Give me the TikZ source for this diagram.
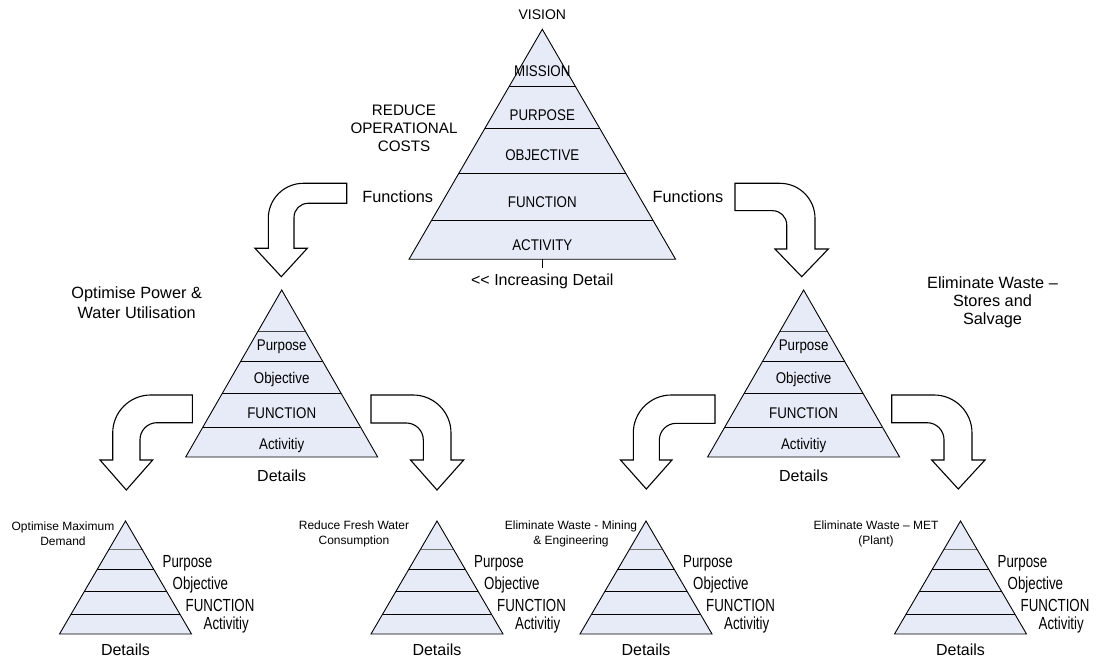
\documentclass[tikz,border=0pt]{standalone}
\usepackage{fontspec}
\setmainfont{Liberation Sans}
\newfontfamily\condf[FakeStretch=0.86]{Liberation Sans}
\newfontfamily\narf[FakeStretch=0.76]{Liberation Sans}
\definecolor{pyrblue}{RGB}{230,235,247}
\tikzset{
  pyrline/.style={line width=0.9pt, black},
  arrowshape/.style={draw=black, fill=white, line width=1.1pt, line join=miter},
  plabel/.style={font=\condf\fontsize{15.5}{18}\selectfont, inner sep=0pt},
  sidelabel/.style={font=\fontsize{16.3}{18.3}\selectfont, align=center, inner sep=0pt},
  smalllabel/.style={font=\fontsize{12}{15}\selectfont, align=center, inner sep=0pt},
  blabel/.style={font=\narf\fontsize{17.5}{20}\selectfont, anchor=west, inner sep=0pt},
  detlabel/.style={font=\fontsize{16}{18}\selectfont, inner sep=0pt}
}
% #1 apex x, #2 apex y, #3 base y, #4 half width, #5 colour of first line, #6 first line y, #7 other line ys
\newcommand\drawpyr[7]{%
  \fill[pyrblue] (#1,#2) -- (#1-#4,#3) -- (#1+#4,#3) -- cycle;
  \pgfmathsetmacro\hwA{#4/(#3-#2)*(#6-#2)}
  \draw[line width=0.9pt, #5] (#1-\hwA,#6) -- (#1+\hwA,#6);
  \foreach \yy in {#7} {
    \pgfmathsetmacro\hw{#4/(#3-#2)*(\yy-#2)}
    \draw[pyrline] (#1-\hw,\yy) -- (#1+\hw,\yy);
  }
  \draw[pyrline, line join=miter] (#1,#2) -- (#1-#4,#3) -- (#1+#4,#3) -- cycle;
}
\begin{document}
\begin{tikzpicture}[x=1pt,y=-1pt]
\useasboundingbox (0,0) rectangle (1101,660);

% ---------------- top pyramid ----------------
\drawpyr{542.3}{29.3}{259.3}{133.3}{black}{86}{128.3,173.3,220}
\node[plabel, font=\fontsize{14}{16}\selectfont] (t-vision) at (542.3,15) {VISION};
\node[plabel] (t-mission) at (542.3,71) {MISSION};
\node[plabel] (t-purpose) at (542.3,115) {PURPOSE};
\node[plabel] (t-objective) at (542.3,155) {OBJECTIVE};
\node[plabel] (t-function) at (542.3,201.7) {FUNCTION};
\node[plabel] (t-activity) at (542.3,245) {ACTIVITY};
\coordinate (t-base) at (542.3,259.3);
\node[detlabel] (t-inc) at (542.3,281) {{<}{<} Increasing Detail};
\draw[line width=0.9pt] (t-base) -- (542.3,268);

\node[sidelabel, font=\fontsize{15.2}{18.3}\selectfont] (reduce) at (404,128.3) {REDUCE\\OPERATIONAL\\COSTS};
\node[sidelabel] (fn-left) at (397.7,196.7) {Functions};
\node[sidelabel] (fn-right) at (688,196.7) {Functions};

% ---------------- arrows from top ----------------
\draw[arrowshape] (346.7,183.3) -- (303.3,183.3) .. controls (284,183.3) and (268.3,199) .. (268.3,218.3) -- (268.3,248.3) -- (255,248.3) -- (281.3,276.7) -- (307.3,248.3) -- (294,248.3) -- (294,217.3) .. controls (294,209.6) and (300.3,203.3) .. (308,203.3) -- (346.7,203.3) -- cycle;
\draw[arrowshape] (735,183.3) -- (780,183.3) .. controls (799.3,183.3) and (815,199) .. (815,218.3) -- (815,249) -- (828.3,249) -- (801.7,276.7) -- (775,249) -- (786.7,249) -- (786.7,224.7) .. controls (786.7,217) and (780.4,210.7) .. (772.7,210.7) -- (735,210.7) -- cycle;

% ---------------- mid left pyramid ----------------
\drawpyr{281.7}{290}{457}{96}{black!75}{331.5}{361.5,393.5,427}
\node[plabel] (ml-purpose) at (281.7,347) {Purpose};
\node[plabel] (ml-objective) at (281.7,379.5) {Objective};
\node[plabel] (ml-function) at (281.7,412.7) {FUNCTION};
\node[plabel] (ml-activity) at (281.7,445) {Activitiy};
\node[detlabel] (ml-details) at (281.7,476) {Details};
\node[sidelabel, font=\fontsize{16.3}{19.6}\selectfont] (power) at (136.7,302.5) {Optimise Power \&\\Water Utilisation};

% ---------------- mid right pyramid ----------------
\drawpyr{803.6}{290}{457}{96}{black!75}{331.5}{361.5,393.5,427}
\node[plabel] (mr-purpose) at (803.6,347) {Purpose};
\node[plabel] (mr-objective) at (803.6,379.5) {Objective};
\node[plabel] (mr-function) at (803.6,412.7) {FUNCTION};
\node[plabel] (mr-activity) at (803.6,445) {Activitiy};
\node[detlabel] (mr-details) at (803.6,476) {Details};
\node[sidelabel] (stores) at (992.5,302.3) {Eliminate Waste --\\Stores and\\Salvage};

% ---------------- arrows from mid ----------------
\draw[arrowshape] (192.3,395) -- (150.7,395) .. controls (129.7,395) and (112.7,412) .. (112.7,433) -- (112.7,460) -- (100,460) -- (126.3,490) -- (152.7,460) -- (140,460) -- (140,439.7) .. controls (140,430.3) and (147.6,422.7) .. (157,422.7) -- (192.3,422.7) -- cycle;
\draw[arrowshape] (371,395) -- (413,395) .. controls (434,395) and (451,412) .. (451,433) -- (451,460) -- (463.7,460) -- (437,490) -- (410.5,460) -- (423.3,460) -- (423.3,440) .. controls (423.3,430.6) and (415.7,423) .. (406.3,423) -- (371,423) -- cycle;
\draw[arrowshape] (715,395) -- (671.3,395) .. controls (650.3,395) and (633.3,412) .. (633.3,433) -- (633.3,460) -- (620.5,460) -- (646.3,489) -- (672,460) -- (659.3,460) -- (659.3,440.3) .. controls (659.3,430.9) and (666.9,423.3) .. (676.3,423.3) -- (715,423.3) -- cycle;
\draw[arrowshape] (891.7,395) -- (934,395) .. controls (955,395) and (972,412) .. (972,433) -- (972,460) -- (985,460) -- (958.3,489) -- (931.7,460) -- (944,460) -- (944,439.7) .. controls (944,430.3) and (936.4,422.7) .. (927,422.7) -- (891.7,422.7) -- cycle;

% ---------------- bottom pyramids ----------------
\foreach \ax/\nm in {125.5/b1, 437/b2, 646/b3, 960.5/b4} {
  \drawpyr{\ax}{521}{634}{66}{black!55}{549}{569.3,591.7,614.3}
  \node[blabel] (\nm-purpose) at (\ax+37,563) {Purpose};
  \node[blabel] (\nm-objective) at (\ax+47,585) {Objective};
  \node[blabel] (\nm-function) at (\ax+60,605) {FUNCTION};
  \node[blabel] (\nm-activity) at (\ax+78,625) {Activitiy};
  \node[detlabel] (\nm-details) at (\ax,650) {Details};
}
\node[smalllabel] (b1-title) at (63,534.2) {Optimise Maximum\\Demand};
\node[smalllabel] (b2-title) at (354,534.2) {Reduce Fresh Water\\Consumption};
\node[smalllabel] (b3-title) at (571,534.2) {Eliminate Waste - Mining\\\& Engineering};
\node[smalllabel] (b4-title) at (876,534) {Eliminate Waste -- MET\\(Plant)};
\end{tikzpicture}
\end{document}
